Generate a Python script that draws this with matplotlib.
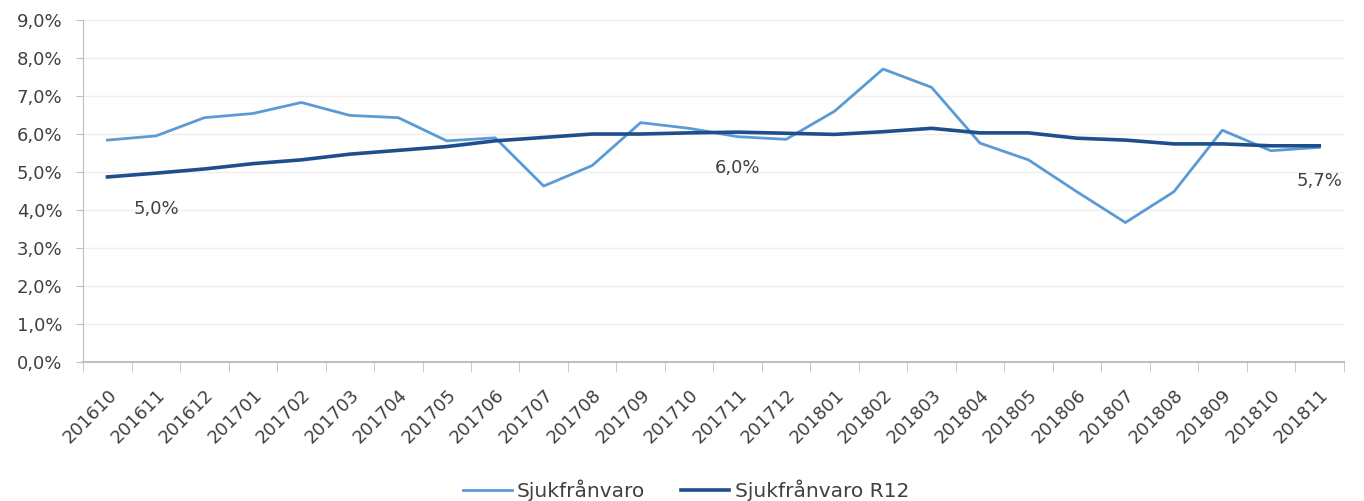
import matplotlib
matplotlib.use('Agg')
import matplotlib.pyplot as plt
import numpy as np

MANADER = ['201610', '201611', '201612', '201701', '201702', '201703', '201704',
           '201705', '201706', '201707', '201708', '201709', '201710', '201711',
           '201712', '201801', '201802', '201803', '201804', '201805', '201806',
           '201807', '201808', '201809', '201810', '201811']
SJUK = [5.84, 5.95, 6.43, 6.54, 6.83, 6.49, 6.43, 5.82, 5.90, 4.63, 5.17, 6.30, 6.15,
        5.93, 5.86, 6.60, 7.71, 7.23, 5.76, 5.32, 4.48, 3.67, 4.48, 6.10, 5.56, 5.65]
SJUK_R12 = [4.87, 4.97, 5.08, 5.22, 5.32, 5.47, 5.57, 5.67, 5.82, 5.91, 6.00, 6.00, 6.03,
            6.05, 6.02, 5.99, 6.06, 6.15, 6.03, 6.03, 5.89, 5.84, 5.74, 5.74, 5.69, 5.69]
ETIKETTER = {1: '5,0%', 13: '6,0%', 25: '5,7%'}

COR_LJUS = '#5b9bd5'
COR_MORK = '#1f4e8c'
GRA = '#404040'
FS = 13

plt.rcParams['font.family'] = ['DejaVu Sans']

fig = plt.figure(figsize=(13.64, 5.01), dpi=100)
ax = fig.add_axes([0.061, 0.2775, 0.924, 0.6825])
x = np.arange(len(MANADER))

ax.plot(x, SJUK, color=COR_LJUS, linewidth=2.0, label='Sjukfrånvaro')
ax.plot(x, SJUK_R12, color=COR_MORK, linewidth=2.6, label='Sjukfrånvaro R12')

for i, txt in ETIKETTER.items():
    ax.annotate(txt, (x[i], SJUK_R12[i]), textcoords='offset points', xytext=(0, -25.5),
                ha='center', va='center', fontsize=FS, color=GRA)

ax.set_xlim(-0.5, len(MANADER) - 0.5)
ax.set_ylim(0, 9)
ax.set_yticks(np.arange(0, 10, 1))
ax.set_yticklabels([f'{v:.1f}%'.replace('.', ',') for v in range(10)], fontsize=FS, color=GRA)
ax.set_xticks(x)
ax.set_xticklabels(MANADER, rotation=45, ha='right', rotation_mode='anchor',
                   fontsize=FS, color=GRA)
ax.set_xticks(np.arange(-0.5, len(MANADER)), minor=True)
ax.tick_params(axis='x', which='major', length=0, pad=17)
ax.tick_params(axis='x', which='minor', length=7, color='#bfbfbf', direction='out')
ax.tick_params(axis='y', length=5, color='#bfbfbf', pad=10)

ax.grid(axis='y', color='#efefef', linewidth=1)
ax.set_axisbelow(True)
for s in ['top', 'right']:
    ax.spines[s].set_visible(False)
ax.spines['left'].set_color('#bfbfbf')
ax.spines['bottom'].set_color('#bfbfbf')
ax.spines['bottom'].set_linewidth(1.5)

fig.legend(loc='center', bbox_to_anchor=(0.503, 0.022), ncol=2, frameon=False,
           fontsize=14.5, handlelength=2.4, handletextpad=0.25, columnspacing=1.8,
           labelcolor=GRA)

fig.savefig('out.png', dpi=100)
